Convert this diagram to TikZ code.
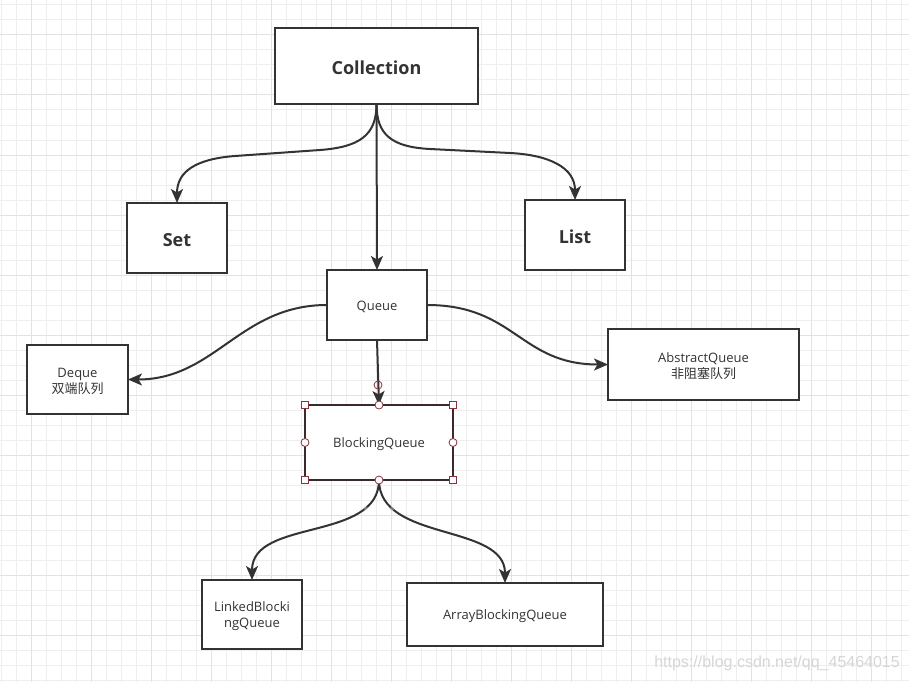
\documentclass[tikz,border=0pt]{standalone}
\usepackage{fontspec}
\setmainfont{Open Sans}
\newfontfamily\cjk{Noto Sans CJK SC}
\newfontfamily\wmfont{Liberation Sans}
\usetikzlibrary{arrows.meta}
\definecolor{ink}{HTML}{333333}
\definecolor{minorg}{HTML}{EEEEEE}
\definecolor{majorg}{HTML}{E2E2E2}
\definecolor{sel}{RGB}{135,50,62}
\definecolor{selbox}{HTML}{3A2A2C}
\tikzset{
  minorgrid/.style={draw=minorg, line width=1pt},
  majorgrid/.style={draw=majorg, line width=1pt},
  box/.style={draw=ink, line width=1.8pt, fill=white, inner sep=0pt, outer sep=0pt, text=ink, align=center},
  bigtext/.style={font=\fontsize{18}{22}\selectfont\bfseries},
  smalltext/.style={font=\fontsize{13}{16}\selectfont},
  conn/.style={draw=ink, line width=2pt, -{Stealth[length=14pt,width=12pt,inset=3.5pt]}},
  sqhandle/.style={draw=sel, fill=white, line width=0.8pt, minimum size=7pt, inner sep=0pt, rectangle},
  cihandle/.style={draw=sel, fill=white, line width=0.8pt, minimum size=8pt, inner sep=0pt, circle},
  pinkdot/.style={circle, fill=sel!40, opacity=0.5, minimum size=4pt, inner sep=0pt}
}
\newcommand{\dn}[1]{\raisebox{-2pt}[\height][\depth]{#1}}
\begin{document}
\begin{tikzpicture}[x=1pt,y=-1pt]
\useasboundingbox (0,0) rectangle (909,682);
\fill[white] (0,0) rectangle (909,682);
% grid
\foreach \x in {1,16,...,908} \draw[minorgrid] (\x,0) -- (\x,682);
\foreach \y in {5,20,...,681} \draw[minorgrid] (0,\y) -- (909,\y);
\foreach \x in {31,91,...,908} \draw[majorgrid] (\x,0) -- (\x,682);
\foreach \y in {35,95,...,681} \draw[majorgrid] (0,\y) -- (909,\y);

% nodes
\node[box, bigtext, minimum width=203pt, minimum height=76pt] (col) at (376.5,66) {\dn{Collection}};
\node[box, bigtext, minimum width=100pt, minimum height=70pt] (set) at (177,238) {\dn{Set}};
\node[box, bigtext, minimum width=100pt, minimum height=70pt] (lst) at (575,235) {\dn{List}};
\node[box, smalltext, minimum width=100pt, minimum height=70pt] (que) at (377,305) {\dn{Queue}};
\node[box, smalltext, minimum width=101pt, minimum height=69pt] (deq) at (77.5,379.5) {\dn{Deque}\\\dn{\cjk 双端队列}};
\node[box, smalltext, minimum width=191pt, minimum height=71pt] (abq) at (703.5,364.5) {\dn{AbstractQueue}\\\dn{\cjk 非阻塞队列}};
\node[box, smalltext, draw=selbox, minimum width=148pt, minimum height=75pt] (bq) at (379,442.5) {\dn{BlockingQueue}};
\node[box, smalltext, minimum width=100pt, minimum height=69pt] (lbq) at (252,614.5) {\dn{LinkedBlocki}\\\dn{ngQueue}};
\node[box, smalltext, minimum width=196pt, minimum height=63pt] (abqq) at (505,614.5) {\dn{ArrayBlockingQueue}};

% connectors
\draw[conn] (col.south) .. controls +(0,31) and (360,147) .. (320,150) -- (235,156) .. controls (195,159) and +(0,-31) .. (set.north);
\draw[conn] (col.south) .. controls +(0,31) and (392,147) .. (430,149) -- (510,153) .. controls (550,155) and +(0,-32) .. (lst.north);
\draw[conn] (col.south) -- (que.north);
\draw[conn] (que.west) .. controls +(-87,0) and +(87,0) .. (deq.east);
\draw[conn] (que.east) .. controls +(88,0) and +(-88,0) .. (abq.west);
\draw[conn] (que.south) -- (bq.north);
\draw[conn] (bq.south) .. controls +(0,62) and +(0,-62) .. node[pos=0.2, pinkdot] (d1) {} (lbq.north);
\draw[conn] (bq.south) .. controls +(0,62) and +(0,-60) .. node[pos=0.2, pinkdot] (d2) {} (abqq.north);

% selection handles
\draw[sel, line width=0.8pt] (378,385) circle (4pt);
\foreach \a in {north west, north east, south west, south east}
  \node[sqhandle] at (bq.\a) {};
\foreach \a in {north, south, west, east}
  \node[cihandle] at (bq.\a) {};

% watermark
\node[anchor=east, text=black!16, font=\wmfont\fontsize{16}{18}\selectfont, inner sep=0pt] (wm) at (900,663) {https://blog.csdn.net/qq\_45464015};
\end{tikzpicture}
\end{document}
